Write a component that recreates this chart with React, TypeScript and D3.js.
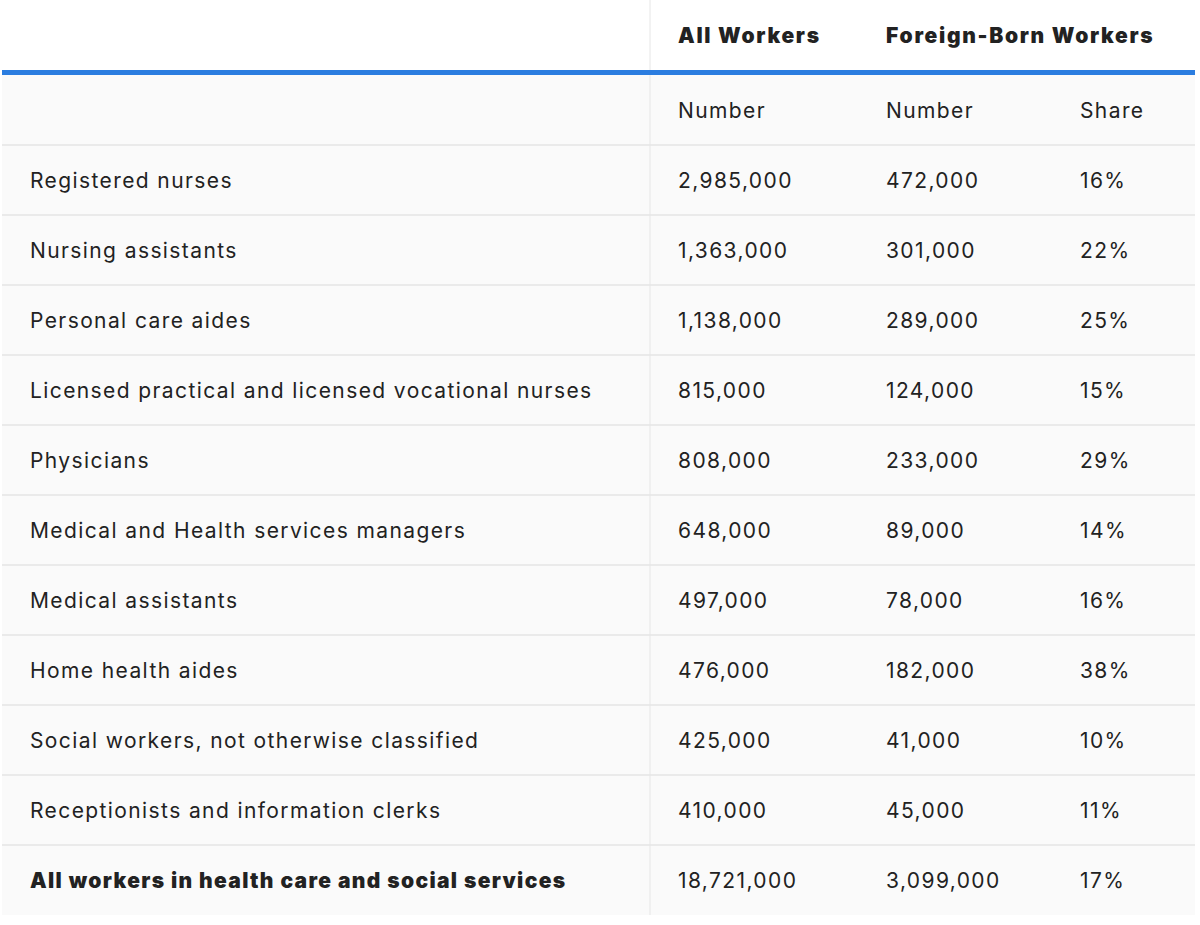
import React, { useEffect, useRef } from "react";
import * as d3 from "d3";

const occupations = [
  "Registered nurses",
  "Nursing assistants",
  "Personal care aides",
  "Licensed practical and licensed vocational nurses",
  "Physicians",
  "Medical and Health services managers",
  "Medical assistants",
  "Home health aides",
  "Social workers, not otherwise classified",
  "Receptionists and information clerks",
  "All workers in health care and social services",
];
const allWorkers = [2985000, 1363000, 1138000, 815000, 808000, 648000, 497000, 476000, 425000, 410000, 18721000];
const foreignBorn = [472000, 301000, 289000, 124000, 233000, 89000, 78000, 182000, 41000, 45000, 3099000];
const foreignShare = [16, 22, 25, 15, 29, 14, 16, 38, 10, 11, 17];
const groupHeaders = ["All Workers", "Foreign-Born Workers"];
const subHeaders = ["Number", "Number", "Share"];
const columnKeys = ["label", "all", "foreign", "share"];

export default function App() {
  const ref = useRef<SVGSVGElement | null>(null);

  useEffect(() => {
    const W = 1200, H = 925;
    const svg = d3.select(ref.current);
    svg.selectAll("*").remove();

    const left = 2, right = 1195, divider = 650;
    const headerBottom = 70;
    const blueH = 5;
    const rowsTop = headerBottom + blueH;
    const rowKeys = ["sub", ...occupations];
    const y = d3.scaleBand<string>().domain(rowKeys).range([rowsTop, 915]).paddingInner(0).paddingOuter(0);
    const x = d3.scaleOrdinal<string, number>().domain(columnKeys).range([30, 678, 886, 1080]);

    const textColor = "#222222";
    const bodyFont = "Inter, 'Noto Sans', sans-serif";
    const fs = 21;
    const bodySpacing = 1.4;
    const boldSpacing = 1.7;

    svg.append("rect").attr("x", 0).attr("y", 0).attr("width", W).attr("height", H).attr("fill", "#ffffff");
    svg.append("rect").attr("x", left).attr("y", rowsTop).attr("width", right - left).attr("height", 915 - rowsTop).attr("fill", "#fafafa");

    svg.append("g").selectAll("line").data(rowKeys.slice(1)).join("line")
      .attr("x1", left).attr("x2", right)
      .attr("y1", (d) => y(d)!).attr("y2", (d) => y(d)!)
      .attr("stroke", "#e4e4e4").attr("stroke-width", 1.5);

    svg.append("line").attr("x1", divider).attr("x2", divider).attr("y1", 0).attr("y2", 915)
      .attr("stroke", "#e6e6e6").attr("stroke-width", 1);

    svg.append("rect").attr("x", left).attr("y", headerBottom).attr("width", right - left).attr("height", blueH).attr("fill", "#2b7de0");

    svg.append("g").selectAll("text").data(groupHeaders).join("text")
      .attr("x", (_, i) => x(columnKeys[i + 1]))
      .attr("y", 43)
      .attr("fill", textColor)
      .attr("font-family", bodyFont)
      .attr("font-weight", 900)
      .attr("font-size", fs)
      .attr("letter-spacing", boldSpacing)
      .text((d) => d);

    svg.append("g").selectAll("text").data(subHeaders).join("text")
      .attr("x", (_, i) => x(columnKeys[i + 1]))
      .attr("y", y("sub")! + y.bandwidth() / 2 + 8)
      .attr("fill", textColor)
      .attr("font-family", bodyFont)
      .attr("font-size", fs)
      .attr("letter-spacing", bodySpacing)
      .text((d) => d);

    const fmt = d3.format(",");
    const rows = occupations.map((o, i) => ({ o, a: allWorkers[i], f: foreignBorn[i], s: foreignShare[i], last: i === occupations.length - 1 }));
    const g = svg.append("g").selectAll("g").data(rows).join("g")
      .attr("transform", (d) => `translate(0,${y(d.o)! + y.bandwidth() / 2 + 8})`);

    g.append("text").attr("x", x("label"))
      .attr("fill", textColor).attr("font-family", bodyFont)
      .attr("font-size", fs)
      .attr("font-weight", (d) => (d.last ? 900 : 400))
      .attr("letter-spacing", (d) => (d.last ? 1.35 : bodySpacing))
      .text((d) => d.o);
    g.append("text").attr("x", x("all"))
      .attr("fill", textColor).attr("font-family", bodyFont).attr("font-size", fs).attr("letter-spacing", bodySpacing)
      .text((d) => fmt(d.a));
    g.append("text").attr("x", x("foreign"))
      .attr("fill", textColor).attr("font-family", bodyFont).attr("font-size", fs).attr("letter-spacing", bodySpacing)
      .text((d) => fmt(d.f));
    g.append("text").attr("x", x("share"))
      .attr("fill", textColor).attr("font-family", bodyFont).attr("font-size", fs).attr("letter-spacing", bodySpacing)
      .text((d) => `${d.s}%`);
  }, []);

  return (
    <div style={{ position: "absolute", left: 0, top: 0 }}>
      <svg ref={ref} width={1200} height={925} style={{ display: "block" }} />
    </div>
  );
}
